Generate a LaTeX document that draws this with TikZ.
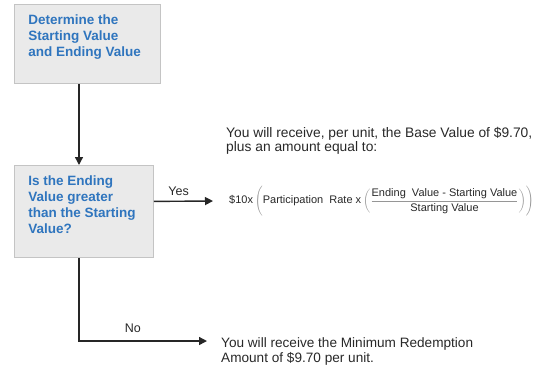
\documentclass[tikz,border=0pt]{standalone}
\usepackage{fontspec}
\setmainfont{Liberation Sans}
\usepackage{xcolor}
\usetikzlibrary{
    positioning, % relative placement
    arrows.meta  % arrow tips
}
\definecolor{boxblue}{RGB}{47,117,190}
\definecolor{boxfill}{RGB}{234,234,234}
\definecolor{boxline}{RGB}{196,196,196}
\definecolor{inkgray}{RGB}{40,40,40}
\definecolor{parengray}{RGB}{150,150,150}
% top aligned text block inside a box
\newcommand{\stepcontent}[3]{\parbox[t][#2][t]{#1}{\raggedright #3}}

\begin{document}
\begin{tikzpicture}[
    x=1pt, y=-1pt,
    font=\fontsize{12}{14}\selectfont,
    text=inkgray,
    arrow/.style={
        -{Triangle[length=8pt,width=8pt]},
        line width=1.4pt,
        draw=black!85
    },
    stepbox/.style={
        draw=boxline,
        fill=boxfill,
        line width=0.8pt,
        anchor=north west,
        inner xsep=14pt,
        inner ysep=10pt,
        text=boxblue,
        font=\fontsize{13.5}{16}\selectfont\bfseries
    },
    outcome/.style={
        anchor=west,
        align=left,
        inner sep=0pt
    },
    formula/.style={
        anchor=west,
        inner sep=0pt,
        font=\fontsize{11}{13}\selectfont
    },
    answer/.style={
        font=\fontsize{12.5}{14}\selectfont
    }
]
\useasboundingbox (0,0) rectangle (540,368);

% Steps
\node[stepbox] (determine) at (14,4)
{\stepcontent{118pt}{59pt}{Determine the\\Starting Value\\and Ending Value}};

\node[stepbox] (question) at (14,165)
{\stepcontent{111pt}{72pt}{Is the Ending\\Value greater\\than the Starting\\Value?}};

% Yes outcome
\node[outcome, font=\fontsize{13.8}{14}\selectfont] (receive) at (226,140.5)
{You will receive, per unit, the Base Value of \$9.70,\\
plus an amount equal to:};

\node[formula] (payoff) at (229,201)
{\$10x\,$\displaystyle\color{parengray}\Biggl(\mbox{\color{inkgray}Participation\ \ Rate x}\left(\frac{\mbox{\color{inkgray}Ending\ \ Value - Starting Value}}{\mbox{\color{inkgray}Starting Value}}\right)\Biggr)$};

% No outcome
\node[outcome, font=\fontsize{13.6}{15}\selectfont] (minimum) at (221,351.5)
{You will receive the Minimum Redemption\\
Amount of \$9.70 per unit.};

% Connectors
\draw[arrow] ([xshift=65pt]determine.south west) -- ([xshift=65pt]question.north west);

\draw[arrow] ([yshift=10pt]question.east) -- ([xshift=-16pt]payoff.west)
    node[answer, above=2pt, pos=0.42] {Yes};

\draw[arrow] ([xshift=65pt]question.south west) |- ([xshift=-14pt,yshift=10.5pt]minimum.west)
    node[answer, above=4pt, pos=0.71] {No};

\end{tikzpicture}
\end{document}
